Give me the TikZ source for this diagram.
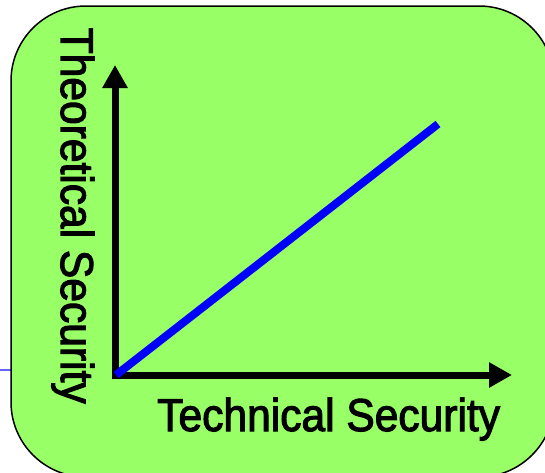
\documentclass[tikz,border=0pt]{standalone}
\usepackage{fontspec}
\setmainfont{Liberation Sans}
\newfontfamily\labelfont{Liberation Sans}[FakeBold=2.5]
\usetikzlibrary{arrows.meta}
\definecolor{panelgreen}{HTML}{99FF66}
\definecolor{slideline}{HTML}{6666FF}
\tikzset{
  panel/.style={draw=black, line width=1.5pt, fill=panelgreen, rounded corners=75pt},
  axis/.style={draw=black, line width=7pt, line join=miter, {Triangle[length=23pt,width=24pt]}-{Triangle[length=23pt,width=24pt]}},
  trend/.style={draw=blue, line width=8pt},
  label/.style={inner sep=0pt, font=\labelfont\fontsize{46}{46}\selectfont},
}
\newcommand{\narrow}[1]{\scalebox{0.925}[1]{#1}}
\begin{document}
\begin{tikzpicture}[x=1pt, y=-1pt]
\useasboundingbox (0,0) rectangle (545,472);
\clip (0,0) rectangle (545,472);
\coordinate (L0) at (0,370);
\coordinate (L1) at (11,370);
\draw[slideline, line width=1.5pt] (L0) -- (L1);
\path[panel] (11,6) rectangle (554,477);
\coordinate (O) at (115,375);
\coordinate (Ytip) at (115,65);
\coordinate (Xtip) at (512,375);
\draw[axis] (Ytip) -- (O) -- (Xtip);
\coordinate (T0) at (116,375);
\coordinate (T1) at (438,124);
\draw[trend] (T0) -- (T1);
\node[label, anchor=base west] (xlab) at (157,431) {\narrow{Technical Security}};
\node[label, anchor=base west, rotate=-90] (ylab) at (61,27.5) {\narrow{Theoretical Security}};
\end{tikzpicture}
\end{document}
